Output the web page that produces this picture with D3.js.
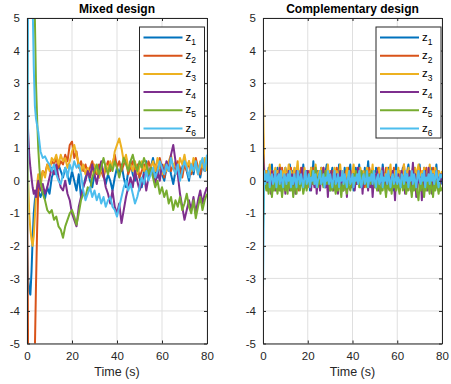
<!DOCTYPE html>
<html>
<head>
<meta charset="utf-8">
<script src="https://cdn.jsdelivr.net/npm/d3@7"></script>
<style>
  body { margin: 0; background: #fff; }
  svg { font-family: "Liberation Sans", Arial, Helvetica, sans-serif; }
</style>
</head>
<body>
<svg id="chart" width="451" height="384"></svg>
<script>
// series names and colours (MATLAB default order)
const names = ["1", "2", "3", "4", "5", "6"];
const colors = ["#0072BD", "#D95319", "#EDB120", "#7E2F8E", "#77AC30", "#4DBEEE"];
const xTicks = [0, 20, 40, 60, 80];
const yTicks = [-5, -4, -3, -2, -1, 0, 1, 2, 3, 4, 5];

// Mixed design: sample times (s)
const tMixed = [0, 0.25, 0.5, 1, 1.5, 2, 2.5, 3, 3.5, 4, 4.5, 5, 5.5,
  6, 7, 8, 9, 10, 11, 12, 13, 14, 15, 16, 17, 18, 19, 20, 21, 22, 23, 24, 25,
  26, 27, 28, 29, 30, 31, 32, 33, 34, 35, 36, 37, 38, 39, 40, 41, 42, 43, 44, 45,
  46, 47, 48, 49, 50, 51, 52, 53, 54, 55, 56, 57, 58, 59, 60, 61, 62, 63, 64, 65,
  66, 67, 68, 69, 70, 71, 72, 73, 74, 75, 76, 77, 78, 79, 80];

const mz1 = [-2.0, -2.6, -3.0, -3.4, -3.5, -2.8, -1.8, -1.0, -0.6, -0.4, -0.5, -0.3, -0.4,
  -0.5, -0.3, -0.55, -0.2, -0.4, 0.1, 0.3, 0.2, 0.5, 0.3, 0.1, 0.4, 0.2, -0.1, 0.3,
  0.0, -0.3, 0.2, -0.5, -0.2, 0.1, 0.3, 0.0, -0.2, 0.2, 0.4, 0.1, 0.5, 0.2, -0.1,
  0.2, 0.0, -0.3, 0.1, 0.4, 0.2, 0.5, 0.1, -0.2, 0.3, 0.6, 0.2, 0.0, 0.4, 0.1,
  -0.2, 0.3, 0.6, 0.2, 0.4, 0.7, 0.3, 0.1, 0.5, 0.2, 0.0, 0.4, 0.6, 0.2, -0.1,
  0.3, 0.5, 0.1, 0.4, 0.7, 0.3, 0.0, 0.5, 0.2, 0.6, 0.4, 0.1, 0.5, 0.3, 0.6];
const mz2 = [1.0, -2.0, -5.5, -7.0, -8.0, -8.0, -7.5, -7.0, -5.2, -3.2, -1.5, -0.3, 0.1,
  0.0, 0.3, 0.2, 0.5, 0.4, 0.6, 0.5, 0.7, 0.4, 0.6, 0.5, 0.8, 0.6, 1.1, 1.2,
  0.7, 0.9, 0.4, 0.6, 0.3, 0.5, 0.2, 0.4, 0.6, 0.3, 0.2, 0.5, 0.3, 0.1, 0.4,
  0.6, 0.3, 0.5, 0.8, 0.4, 0.6, 0.3, 0.5, 0.7, 0.2, 0.4, 0.6, 0.3, 0.5, 0.1,
  0.3, 0.5, 0.2, 0.6, 0.4, 0.2, 0.5, 0.3, 0.7, 0.4, 0.1, 0.4, 0.6, 0.3, 0.5,
  0.2, 0.6, 0.4, 0.1, 0.5, 0.3, 0.6, 0.2, 0.5, 0.7, 0.4, 0.2, 0.6, 0.3, 0.5];
const mz3 = [2.0, 1.0, 0.0, -1.0, -1.5, -1.8, -2.0, -1.7, -1.1, -0.5, -0.1, 0.2, 0.0,
  -0.2, 0.3, 0.1, 0.5, 0.3, 0.7, 0.6, 0.8, 0.5, 0.8, 0.6, 0.7, 0.4, 0.6, 0.9,
  1.1, 0.8, 0.5, 0.3, 0.5, 0.2, 0.4, 0.1, 0.3, 0.5, 0.3, 0.1, 0.4, 0.2, 0.5,
  0.3, 0.6, 0.4, 0.9, 1.1, 1.3, 1.0, 0.6, 0.8, 0.4, 0.5, 0.3, 0.6, 0.2, 0.4,
  0.6, 0.3, 0.5, 0.1, 0.4, 0.6, 0.3, 0.7, 0.4, 0.2, 0.5, 0.3, 0.6, 0.8, 0.4,
  0.6, 0.3, 0.7, 0.5, 0.8, 0.4, 0.6, 0.3, 0.7, 0.5, 0.2, 0.6, 0.4, 0.7, 0.3];
const mz4 = [3.0, 2.2, 1.5, 0.8, 0.4, 0.1, -0.2, -0.4, -0.3, -0.5, -0.2, 0.0, -0.2,
  -0.3, -0.1, -0.4, -0.2, 0.1, 0.4, 0.2, 0.5, 0.1, -0.2, -0.3, 0.0, -0.4, -0.6, -1.0,
  -1.2, -1.4, -0.8, -0.5, -0.2, 0.0, 0.3, 0.1, 0.5, 0.2, -0.1, 0.3, 0.6, 0.2, -0.2,
  -0.4, -0.7, -0.3, -0.8, -1.0, -0.7, -1.3, -0.9, -0.5, -0.2, 0.1, -0.2, 0.3, 0.0, -0.3,
  -0.1, 0.2, -0.3, 0.1, 0.4, 0.2, -0.1, 0.3, 0.0, 0.5, 0.2, 0.6, 0.3, 0.8, 1.1,
  0.6, 0.2, -0.4, -0.8, -1.2, -0.9, -0.6, -0.9, -0.5, -1.0, -0.6, -0.3, -0.7, -0.4, -0.2];
const mz5 = [-2.0, 3.0, 6.5, 8.0, 8.0, 7.5, 7.0, 6.5, 5.0, 3.0, 1.9, 1.0, 0.4,
  0.0, -0.4, -0.6, -0.9, -1.0, -0.9, -1.2, -1.1, -1.4, -1.5, -1.75, -1.4, -1.2, -1.0, -0.9,
  -1.1, -1.35, -1.0, -0.6, -0.4, -0.5, -0.2, -0.3, 0.1, 0.3, 0.5, 0.2, 0.4, 0.7, 0.4,
  0.2, 0.5, 0.3, 0.6, 0.4, 0.1, 0.4, 0.7, 0.5, 0.3, 0.6, 0.8, 0.5, 0.3, 0.6,
  0.4, 0.7, 0.5, 0.2, 0.4, 0.1, -0.2, 0.0, -0.4, -0.2, -0.5, -0.3, -0.7, -0.5, -0.9,
  -0.6, -0.8, -0.5, -0.9, -0.7, -0.4, -0.8, -1.0, -0.6, -1.15, -0.8, -0.5, -0.9, -0.6, -0.4];
const mz6 = [-4.0, 1.0, 6.0, 9.0, 9.0, 7.0, 5.5, 3.5, 2.3, 1.9, 1.7, 1.5, 1.2,
  0.9, 0.7, 0.75, 0.6, 0.5, 0.3, 0.5, 0.2, 0.0, -0.1, 0.2, 0.4, 0.1, 0.5, 0.3,
  0.6, 0.4, 0.5, 0.2, -0.3, -0.6, -0.4, -0.2, -0.5, -0.3, -0.6, -0.4, -0.7, -0.5, -0.8,
  -0.6, -0.5, -0.8, -0.9, -1.1, -0.8, -0.5, -0.2, 0.0, -0.3, -0.1, -0.4, -0.7, -0.5, -0.2,
  0.1, -0.1, 0.3, 0.0, 0.2, 0.4, 0.1, 0.3, 0.6, 0.4, 0.2, 0.5, 0.3, 0.7, 0.4,
  0.2, 0.5, 0.0, 0.3, 0.6, 0.4, 0.1, 0.5, 0.3, 0.6, 0.2, 0.5, 0.7, 0.3, 0.8];

// Complementary design: one sample every 0.5 s from t = 0 to 80
const compStep = 0.5;
const cz1 = [0.5, 0.1,-0.2,0.3,0.0,0.4,-0.1,0.2,0.5,-0.2,0.1, 0.3,-0.1,0.4,0.0,0.2,-0.3,0.3,0.1,-0.1,0.4,
  0.2,-0.2,0.1,0.5,0.0,0.3,-0.1,0.2,-0.3,0.4, 0.1,0.3,-0.2,0.2,0.0,0.5,0.1,-0.1,0.3,0.0,
  0.2,-0.3,0.4,0.1,0.6,0.0,0.2,-0.2,0.3,0.1, -0.1,0.4,0.0,0.2,-0.2,0.3,0.5,0.0,0.1,-0.3,
  0.2,0.4,-0.1,0.3,0.0,0.2,-0.2,0.5,0.1,0.3, 0.0,-0.2,0.4,0.1,0.2,-0.1,0.3,0.5,0.0,0.2,
  -0.3,0.1,0.4,0.0,0.2,0.5,-0.1,0.3,0.1,-0.2, 0.4,0.0,0.2,0.6,0.1,-0.1,0.3,0.0,0.2,-0.2,
  0.4,0.1,0.3,-0.1,0.2,0.0,0.5,0.2,-0.2,0.3, 0.1,0.4,-0.1,0.2,0.0,0.3,-0.3,0.2,0.5,0.1,
  0.0,0.3,-0.2,0.2,0.4,0.0,0.1,-0.1,0.3,0.5, 0.1,-0.2,0.2,0.0,0.4,0.1,-0.1,0.3,0.2,0.5,
  0.0,0.2,-0.2,0.4,0.1,0.3,-0.1,0.2,0.0,0.4, 0.1,0.3,-0.2,0.2,0.5,0.0,0.3,0.1,-0.1,0.2];
const cz2 = [1.5, 0.2,0.0,0.3,-0.2,0.1,0.4,-0.1,0.2,0.0,0.3, -0.2,0.1,0.3,0.0,0.2,-0.1,0.4,0.1,-0.2,0.2,
  0.0,0.3,-0.1,0.2,0.4,0.0,-0.2,0.3,0.1,0.0, 0.2,-0.3,0.1,0.4,0.0,0.2,-0.1,0.3,0.1,-0.2,
  0.3,0.0,0.2,-0.1,0.4,0.1,-0.2,0.2,0.0,0.3, 0.1,-0.1,0.2,0.4,0.0,-0.2,0.3,0.1,0.2,-0.1,
  0.0,0.3,0.1,-0.2,0.2,0.4,0.0,0.1,-0.1,0.3, 0.2,0.0,-0.2,0.3,0.1,0.4,-0.1,0.2,0.0,0.3,
  0.1,-0.2,0.2,0.0,0.4,0.1,-0.1,0.3,0.0,0.2, -0.2,0.3,0.1,0.0,0.4,0.2,-0.1,0.1,0.3,0.0,
  -0.2,0.2,0.4,0.1,0.0,0.3,-0.1,0.2,0.1,0.4, 0.0,-0.2,0.3,0.1,0.2,0.0,0.4,-0.1,0.2,0.3,
  0.1,-0.2,0.2,0.0,0.3,0.5,0.1,-0.1,0.2,0.0, 0.3,0.1,-0.2,0.4,0.2,0.0,0.3,-0.1,0.1,0.4,
  0.2,0.0,0.3,-0.2,0.1,0.4,0.0,0.2,-0.1,0.3, 0.1,0.4,0.0,0.2,-0.2,0.3,0.1,0.0,0.2,0.1];
const cz3 = [2.6, 0.4,0.1,0.3,0.0,0.2,0.5,0.1,0.3,-0.1,0.2, 0.4,0.0,0.3,0.1,0.5,0.2,-0.1,0.3,0.1,0.4,
  0.0,0.2,0.5,0.1,0.3,-0.1,0.2,0.4,0.0,0.3, 0.6,0.1,0.2,-0.1,0.3,0.0,0.4,0.2,0.1,0.3,
  -0.1,0.2,0.4,0.0,0.3,0.1,0.5,0.2,0.0,0.3, 0.1,0.4,-0.1,0.2,0.3,0.0,0.2,0.5,0.1,0.3,
  0.0,0.2,-0.1,0.4,0.1,0.3,0.0,0.2,0.5,0.1, 0.3,-0.1,0.2,0.0,0.4,0.1,0.3,0.2,0.0,0.3,
  0.5,0.1,0.2,-0.1,0.3,0.0,0.4,0.2,0.1,0.3, 0.0,0.2,0.4,0.1,-0.1,0.3,0.2,0.5,0.0,0.2,
  0.1,0.3,0.0,0.4,0.2,-0.1,0.3,0.1,0.2,0.0, 0.4,0.1,0.3,0.5,0.0,0.2,0.1,0.3,-0.1,0.2,
  0.4,0.0,0.3,0.1,0.2,0.5,0.0,0.3,0.1,0.4, 0.2,-0.1,0.3,0.0,0.2,0.4,0.1,0.3,0.5,0.0,
  0.2,0.3,0.1,0.4,0.0,0.2,0.3,0.1,0.5,0.2, 0.0,0.3,0.1,0.4,0.2,0.0,0.3,0.1,0.2,0.3];
const cz4 = [0.85, 0.3,-0.2,0.1,-0.3,0.2,0.0,-0.4,0.3,-0.1,0.2, -0.3,0.0,0.2,-0.2,0.4,-0.1,-0.3,0.1,0.0,-0.4,
  0.2,-0.1,0.3,-0.3,0.0,0.2,-0.2,0.1,-0.4,0.3, 0.0,-0.2,0.2,-0.1,0.4,-0.3,0.1,0.0,-0.2,0.3,
  -0.1,0.1,-0.3,0.2,0.0,-0.2,0.3,-0.4,0.1,0.0, -0.3,0.2,-0.1,0.4,0.0,-0.2,0.1,-0.5,0.2,-0.1,
  0.3,0.0,-0.3,0.1,-0.1,0.2,-0.4,0.0,0.3,-0.2, 0.1,-0.3,0.2,0.0,-0.5,0.1,-0.1,0.3,-0.2,0.0,
  0.2,-0.3,0.1,-0.1,0.4,0.0,-0.2,0.2,-0.4,0.1, -0.1,0.3,0.0,-0.3,0.2,-0.2,0.1,-0.5,0.0,0.2,
  -0.1,0.3,-0.3,0.0,0.2,-0.2,0.4,-0.1,0.1,-0.4, 0.0,0.2,-0.2,0.1,-0.3,0.3,0.0,-0.6,0.1,-0.1,
  0.2,-0.3,0.0,0.3,-0.2,0.1,-0.4,0.2,0.0,-0.1, 0.3,-0.3,0.1,0.55,-0.1,0.2,-0.5,0.0,0.3,-0.2,
  0.1,-0.6,0.2,-0.1,0.3,0.0,-0.3,0.4,-0.2,0.1, -0.4,0.2,0.0,-0.2,0.3,-0.1,0.1,-0.3,0.2,0.0];
const cz5 = [-1.5, -0.2,0.1,-0.3,-0.1,-0.4,0.0,-0.2,-0.5,-0.1,-0.3, 0.1,-0.2,-0.4,0.0,-0.3,-0.1,-0.5,-0.2,0.0,-0.3,
  -0.1,-0.4,0.1,-0.2,-0.3,0.0,-0.5,-0.2,-0.1,-0.4, 0.0,-0.2,-0.3,0.1,-0.1,-0.4,-0.2,0.0,-0.3,-0.1,
  0.2,-0.2,0.0,0.3,-0.1,0.1,0.4,0.0,-0.2,0.2, -0.1,0.3,0.0,-0.2,0.1,0.3,-0.1,0.2,0.0,-0.3,
  -0.1,-0.3,0.0,-0.2,-0.4,-0.1,-0.3,0.0,-0.2,-0.5, -0.1,-0.3,0.1,-0.2,-0.4,0.0,-0.2,-0.3,-0.1,0.1,
  0.2,-0.1,0.3,0.0,0.2,-0.2,0.1,0.3,-0.1,0.2, 0.0,0.3,-0.2,0.1,0.2,-0.1,0.3,0.0,0.1,-0.2,
  -0.1,-0.3,0.0,-0.2,-0.4,-0.1,-0.3,0.1,-0.2,-0.5, 0.0,-0.2,-0.3,-0.1,-0.4,0.0,-0.2,-0.1,-0.3,0.0,
  -0.2,-0.4,-0.1,0.1,-0.3,-0.2,0.0,-0.4,-0.1,-0.3, 0.1,-0.2,-0.5,-0.1,-0.3,0.0,-0.2,-0.4,-0.6,-0.1,
  -0.3,0.0,-0.2,-0.5,-0.1,-0.3,0.1,-0.2,-0.4,0.0, -0.2,-0.5,-0.1,-0.3,0.0,-0.2,-0.4,-0.1,-0.3,-0.2];
const cz6 = [-3.4, 0.3,-0.1,0.2,0.0,0.3,-0.2,0.1,0.2,-0.1,0.0, 0.3,-0.2,0.1,0.2,-0.1,0.3,0.0,-0.2,0.2,0.1,
  -0.1,0.2,0.0,0.3,-0.2,0.1,-0.1,0.2,0.0,-0.2, 0.3,0.1,-0.1,0.2,0.0,-0.2,0.1,0.3,-0.1,0.0,
  0.2,-0.2,0.1,0.0,0.3,-0.1,0.2,-0.2,0.0,0.1, 0.3,-0.1,0.0,0.2,-0.2,0.1,0.0,0.3,-0.1,0.2,
  0.0,-0.2,0.1,0.3,-0.1,0.0,0.2,-0.2,0.1,0.0, 0.3,-0.1,0.2,0.0,-0.2,0.1,0.3,-0.1,0.0,0.2,
  -0.2,0.1,0.0,0.2,-0.1,0.3,0.0,-0.2,0.1,0.2, -0.1,0.0,0.3,-0.2,0.1,0.0,0.2,-0.1,0.3,0.0,
  -0.2,0.1,0.2,-0.1,0.0,0.3,-0.2,0.1,0.0,0.2, -0.1,0.3,0.0,-0.2,0.1,0.2,-0.1,0.0,0.3,-0.1,
  0.1,0.0,-0.2,0.2,0.1,-0.1,0.3,0.0,0.2,-0.2, 0.1,0.0,0.3,-0.1,0.2,0.0,-0.2,0.1,0.3,0.0,
  -0.1,0.2,0.0,0.3,-0.2,0.1,0.0,0.2,-0.1,0.3, 0.0,0.2,-0.1,0.1,0.3,0.0,-0.2,0.2,0.1,0.2];

const svg = d3.select("#chart");
const plotTop = 18, plotBottom = 343.5;

function drawPanel(id, left, right, title, times, series, legendX) {
  const x = d3.scaleLinear().domain([0, 80]).range([left, right]);
  const y = d3.scaleLinear().domain([-5, 5]).range([plotBottom, plotTop]);
  const g = svg.append("g");

  // grid
  g.selectAll(".gx").data(xTicks).enter().append("line")
    .attr("x1", d => x(d)).attr("x2", d => x(d)).attr("y1", plotTop).attr("y2", plotBottom)
    .attr("stroke", "#dfdfdf").attr("stroke-width", 1);
  g.selectAll(".gy").data(yTicks).enter().append("line")
    .attr("x1", left).attr("x2", right).attr("y1", d => y(d)).attr("y2", d => y(d))
    .attr("stroke", "#dfdfdf").attr("stroke-width", 1);

  // clipped lines
  svg.append("clipPath").attr("id", "clip" + id).append("rect")
    .attr("x", left).attr("y", plotTop).attr("width", right - left).attr("height", plotBottom - plotTop);
  const line = d3.line().x((d, i) => x(times(i))).y(d => y(d));
  const lines = g.append("g").attr("clip-path", "url(#clip" + id + ")");
  series.forEach((s, k) => {
    lines.append("path").datum(s).attr("d", line)
      .attr("fill", "none").attr("stroke", colors[k])
      .attr("stroke-width", 2).attr("stroke-linejoin", "round");
  });

  // axes (box with inward ticks)
  const axisColor = "#262626";
  const xb = g.append("g").attr("transform", `translate(0,${plotBottom})`)
    .call(d3.axisBottom(x).tickValues(xTicks).tickSizeInner(-3).tickSizeOuter(0).tickPadding(8));
  const xt = g.append("g").attr("transform", `translate(0,${plotTop})`)
    .call(d3.axisTop(x).tickValues(xTicks).tickSizeInner(-3).tickSizeOuter(0).tickFormat(""));
  const yl = g.append("g").attr("transform", `translate(${left},0)`)
    .call(d3.axisLeft(y).tickValues(yTicks).tickSizeInner(-3).tickSizeOuter(0).tickPadding(7));
  const yr = g.append("g").attr("transform", `translate(${right},0)`)
    .call(d3.axisRight(y).tickValues(yTicks).tickSizeInner(-3).tickSizeOuter(0).tickFormat(""));
  [xb, xt, yl, yr].forEach(a => {
    a.selectAll("path").attr("stroke", axisColor);
    a.selectAll("line").attr("stroke", axisColor);
    a.selectAll("text").attr("fill", "#262626").style("font-size", "11.5px")
      .style("font-family", "Liberation Sans, Arial, sans-serif");
  });
  yl.selectAll("text").text(d => d < 0 ? "-" + Math.abs(d) : d);

  // title and x label
  g.append("text").attr("x", (left + right) / 2).attr("y", 13).attr("text-anchor", "middle")
    .style("font-size", "12px").style("font-weight", "bold").attr("fill", "#000").text(title);
  g.append("text").attr("x", (left + right) / 2).attr("y", 376).attr("text-anchor", "middle")
    .style("font-size", "12.5px").attr("fill", "#262626").text("Time (s)");

  // legend
  const lx = legendX, ly = 27, lw = 65, lh = 111, rowH = 18.2;
  const lg = g.append("g");
  lg.append("rect").attr("x", lx).attr("y", ly).attr("width", lw).attr("height", lh)
    .attr("fill", "#fff").attr("stroke", axisColor).attr("stroke-width", 1);
  names.forEach((n, k) => {
    const cy = ly + 10.5 + k * rowH;
    lg.append("line").attr("x1", lx + 4).attr("x2", lx + 43).attr("y1", cy).attr("y2", cy)
      .attr("stroke", colors[k]).attr("stroke-width", 2);
    const t = lg.append("text").attr("x", lx + 46).attr("y", cy + 3)
      .style("font-size", "11.5px").attr("fill", "#000");
    t.append("tspan").text("z");
    t.append("tspan").attr("dy", 4).style("font-size", "8.5px").text(n);
  });
}

drawPanel("a", 27, 207, "Mixed design", i => tMixed[i],
  [mz1, mz2, mz3, mz4, mz5, mz6], 139.5);
drawPanel("b", 263, 442, "Complementary design", i => i * compStep,
  [cz1, cz2, cz3, cz4, cz5, cz6], 376);
</script>
</body>
</html>
